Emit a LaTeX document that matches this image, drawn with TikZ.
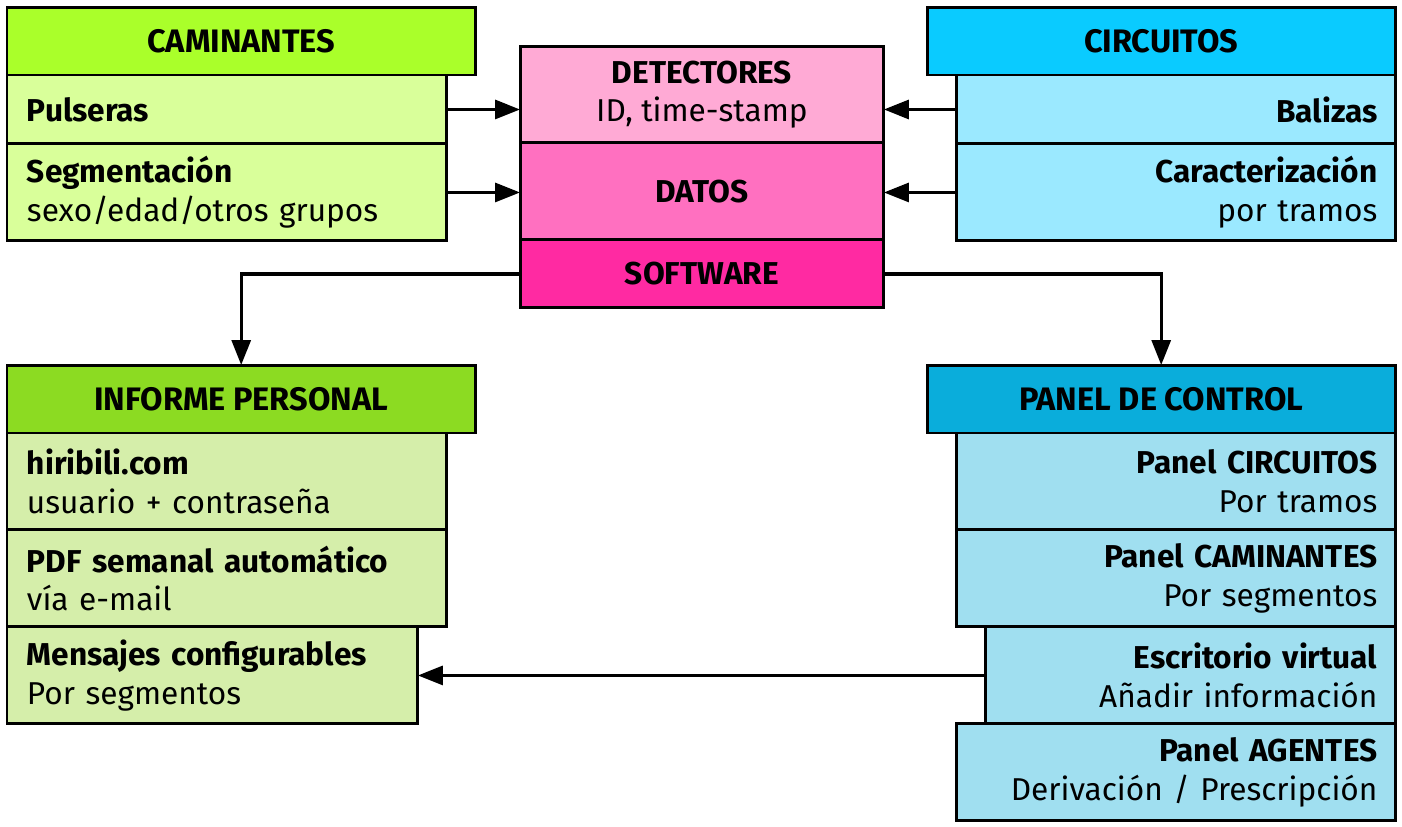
\documentclass[tikz,border=0pt]{standalone}
\usepackage{fontspec}
\setmainfont{Fira Sans}
\usetikzlibrary{positioning,arrows.meta}
\definecolor{camhead}{HTML}{AAFF2A}
\definecolor{camrow}{HTML}{D9FF9A}
\definecolor{circhead}{HTML}{0ACBFF}
\definecolor{circrow}{HTML}{9BE9FF}
\definecolor{dethi}{HTML}{FFAAD5}
\definecolor{datmid}{HTML}{FF70C0}
\definecolor{softdk}{HTML}{FF2AA2}
\definecolor{infohead}{HTML}{8CDB22}
\definecolor{inforow}{HTML}{D5EEAA}
\definecolor{panhead}{HTML}{0AADDB}
\definecolor{panrow}{HTML}{A0DFF0}
\tikzset{
	box/.style={draw, line width=1.7pt, outer sep=0pt, inner ysep=0pt, font=\fontsize{18}{22}\selectfont},
	headbox/.style={box, anchor=north west, minimum width=9.37cm, minimum height=1.36cm, font=\fontsize{18.5}{22}\selectfont\bfseries},
	midbox/.style={box, anchor=north west, minimum width=7.28cm, align=center},
	lrow/.style={box, anchor=north west, align=left, inner xsep=0.4cm, text width=#1},
	lrow/.default=8cm,
	rrow/.style={box, anchor=north east, align=right, inner xsep=0.36cm, text width=#1},
	rrow/.default=8.06cm,
	conn/.style={line width=1.8pt, -{Triangle[length=0.5cm,width=0.38cm]}}
}
\begin{document}
\begin{tikzpicture}[x=0.02cm, y=-0.02cm]
	\useasboundingbox (0,0) rectangle (1402,826);
	% top left
	\node[headbox, fill=camhead] (caminantes) at (7,7) {CAMINANTES};
	\node[lrow, fill=camrow, minimum height=1.38cm] (pulseras) at (caminantes.south west) {\textbf{Pulseras}};
	\node[lrow, fill=camrow, minimum height=1.94cm] (segmentacion) at (pulseras.south west) {\textbf{Segmentación}\\sexo/edad/otros grupos};
	% middle
	\node[midbox, fill=dethi, minimum height=1.94cm] (detectores) at (520,46) {\textbf{DETECTORES}\\ID, time-stamp};
	\node[midbox, fill=datmid, minimum height=1.94cm] (datos) at (detectores.south west) {\textbf{DATOS}};
	\node[midbox, fill=softdk, minimum height=1.36cm] (software) at (datos.south west) {\textbf{SOFTWARE}};
	% top right
	\node[headbox, fill=circhead] (circuitos) at (927,7) {CIRCUITOS};
	\node[rrow, fill=circrow, minimum height=1.38cm] (balizas) at (circuitos.south east) {\textbf{Balizas}};
	\node[rrow, fill=circrow, minimum height=1.94cm] (caracterizacion) at (balizas.south east) {\textbf{Caracterización}\\por tramos};
	% bottom left
	\node[headbox, fill=infohead] (informe) at (7,365) {INFORME PERSONAL};
	\node[lrow, fill=inforow, minimum height=1.94cm] (hiribili) at (informe.south west) {\textbf{hiribili.com}\\usuario + contraseña};
	\node[lrow, fill=inforow, minimum height=1.94cm] (pdf) at (hiribili.south west) {\textbf{PDF semanal automático}\\vía e-mail};
	\node[lrow=7.42cm, fill=inforow, minimum height=1.94cm] (mensajes) at (pdf.south west) {\textbf{Mensajes configurables}\\Por segmentos};
	% bottom right
	\node[headbox, fill=panhead] (panel) at (927,365) {PANEL DE CONTROL};
	\node[rrow, fill=panrow, minimum height=1.94cm] (pcircuitos) at (panel.south east) {\textbf{Panel CIRCUITOS}\\Por tramos};
	\node[rrow, fill=panrow, minimum height=1.94cm] (pcaminantes) at (pcircuitos.south east) {\textbf{Panel CAMINANTES}\\Por segmentos};
	\node[rrow=7.48cm, fill=panrow, minimum height=1.94cm] (escritorio) at (pcaminantes.south east) {\textbf{Escritorio virtual}\\Añadir información};
	\node[rrow, fill=panrow, minimum height=1.94cm] (agentes) at (escritorio.south east) {\textbf{Panel AGENTES}\\Derivación / Prescripción};
	% connectors
	\draw[conn] (pulseras.east) -- (pulseras.east -| detectores.west);
	\draw[conn] (segmentacion.east) -- (segmentacion.east -| datos.west);
	\draw[conn] (balizas.west) -- (balizas.west -| detectores.east);
	\draw[conn] (caracterizacion.west) -- (caracterizacion.west -| datos.east);
	\draw[conn] (software.west) -| (informe.north);
	\draw[conn] (software.east) -| (panel.north);
	\draw[conn] (escritorio.west) -- (escritorio.west -| mensajes.east);
\end{tikzpicture}
\end{document}
